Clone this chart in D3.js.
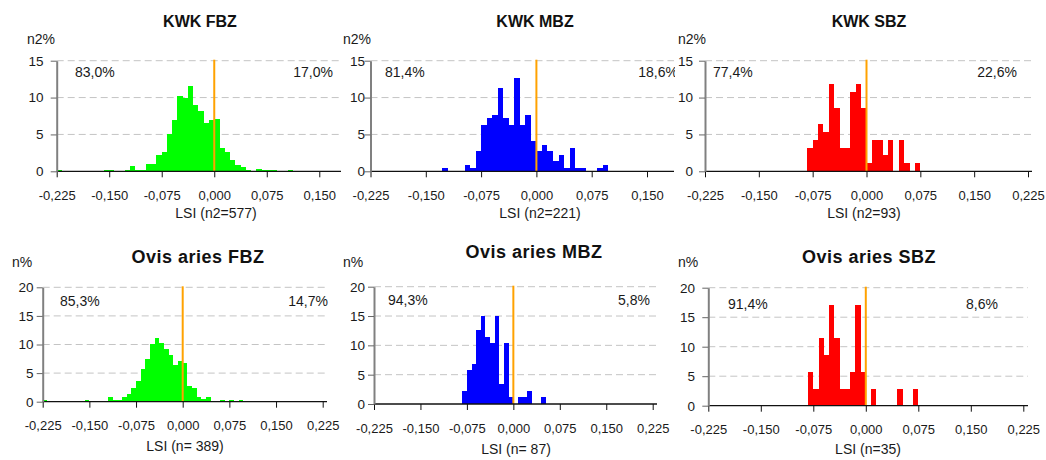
<!DOCTYPE html>
<html>
<head>
<meta charset="utf-8">
<script src="https://cdn.jsdelivr.net/npm/d3@7"></script>
<style>
  body { margin: 0; background: #fff; }
  svg { display: block; font-family: "Liberation Sans", Arial, sans-serif; }
</style>
</head>
<body>
<svg id="chart" width="1046" height="460"></svg>
<script>
// ---- Data: LSI histograms, bin width 0.0075, counts per bin ----
const binWidth = 0.0075;
const xTickValues = [-0.225, -0.15, -0.075, 0, 0.075, 0.15, 0.225];
const yTicksKwk = [0, 5, 10, 15];
const yTicksOvis = [0, 5, 10, 15, 20];
const thresholdLSI = 0;

// KWK FBZ (n2 = 577), bins starting at -0.225
const kwkFbzFirstBin = -0.225;
const kwkFbzCounts = [1, 0, 0, 0, 0, 0, 0, 0, 0, 1, 1, 0, 0, 1, 4, 1, 1, 6, 6, 13, 15, 29, 40, 59, 57, 67, 52, 47, 38, 40,
                      41, 18, 15, 9, 5, 3, 1, 0, 2, 1, 1, 1, 0, 0, 1];
// KWK MBZ (n2 = 221), bins starting at -0.1275
const kwkMbzFirstBin = -0.1275;
const kwkMbzCounts = [1, 0, 0, 0, 2, 1, 6, 14, 16, 17, 25, 16, 14, 28, 14, 17, 9,
                      6, 8, 6, 3, 5, 1, 7, 1, 1, 0, 0, 1, 2];
// KWK SBZ (n2 = 93), bins starting at -0.0825
const kwkSbzFirstBin = -0.0825;
const kwkSbzCounts = [3, 4, 6, 5, 11, 8, 3, 3, 10, 11, 8,
                      1, 4, 4, 2, 4, 0, 4, 1, 0, 1];
// Ovis aries FBZ (n = 389), bins starting at -0.225
const ovisFbzFirstBin = -0.225;
const ovisFbzCounts = [1, 0, 0, 0, 0, 0, 0, 0, 0, 1, 0, 0, 0, 0, 3, 1, 1, 3, 5, 9, 14, 22, 29, 39, 43, 40, 36, 32, 25, 28,
                       26, 11, 9, 3, 2, 3, 0, 0, 1, 0, 1, 0, 1];
// Ovis aries MBZ (n = 87), bins starting at -0.0825
const ovisMbzFirstBin = -0.0825;
const ovisMbzCounts = [2, 5, 6, 11, 13, 10, 9, 13, 3, 9, 1,
                       0, 1, 1, 2, 0, 0, 1];
// Ovis aries SBZ (n = 35), bins starting at -0.0825
const ovisSbzFirstBin = -0.0825;
const ovisSbzCounts = [2, 1, 4, 3, 6, 4, 1, 1, 2, 6, 2,
                       0, 1, 0, 0, 0, 0, 1, 0, 0, 1];

const sampleSizes = [577, 221, 93, 389, 87, 35];
const titles = ["KWK FBZ", "KWK MBZ", "KWK SBZ", "Ovis aries FBZ", "Ovis aries MBZ", "Ovis aries SBZ"];
const axisTitles = ["LSI (n2=577)", "LSI (n2=221)", "LSI (n2=93)", "LSI (n= 389)", "LSI (n= 87)", "LSI (n=35)"];
const leftShares = ["83,0%", "81,4%", "77,4%", "85,3%", "94,3%", "91,4%"];
const rightShares = ["17,0%", "18,6%", "22,6%", "14,7%", "5,8%", "8,6%"];
const yAxisLabels = ["n2%", "n2%", "n2%", "n%", "n%", "n%"];
const barColors = ["#00ff00", "#0000ff", "#ff0000", "#00ff00", "#0000ff", "#ff0000"];

// ---- Layout of the six small multiples ----
const layouts = [
  { xL: 56.7, xR: 371.8, yT: 60.7, yB: 171.3, axisEnd: 341, clip: [0, 341], yLabRight: 43.5,
    titleX: 200, titleY: 27, titleSize: 16, yLabX: 27, yLabY: 44, lPctX: 75, rPctX: 333, pctY: 77, tickY: 200, axTX: 216, axTY: 218 },
  { xL: 370.5, xR: 702.3, yT: 60.7, yB: 171.3, axisEnd: 674, clip: [341, 675], yLabRight: 365,
    titleX: 535, titleY: 27, titleSize: 16, yLabX: 343, yLabY: 44, lPctX: 385, rPctX: 678, pctY: 77, tickY: 200, axTX: 540, axTY: 218 },
  { xL: 705, xR: 1028, yT: 60.7, yB: 171.3, axisEnd: 1032, clip: null, yLabRight: 693,
    titleX: 869, titleY: 27, titleSize: 16, yLabX: 678, yLabY: 44, lPctX: 713, rPctX: 1017, pctY: 77, tickY: 200, axTX: 864, axTY: 218 },
  { xL: 42.7, xR: 322.7, yT: 287.3, yB: 401.7, axisEnd: 327, clip: null, yLabRight: 33.5,
    titleX: 198, titleY: 263, titleSize: 18, yLabX: 12, yLabY: 267, lPctX: 60, rPctX: 328, pctY: 306, tickY: 430, axTX: 185, axTY: 451 },
  { xL: 374, xR: 652.7, yT: 286.7, yB: 404, axisEnd: 657, clip: null, yLabRight: 365,
    titleX: 534, titleY: 258, titleSize: 18, yLabX: 343, yLabY: 267, lPctX: 388, rPctX: 650, pctY: 305, tickY: 433, axTX: 516, axTY: 454 },
  { xL: 708.3, xR: 1023.3, yT: 287.7, yB: 405.7, axisEnd: 1028, clip: null, yLabRight: 695,
    titleX: 869, titleY: 263, titleSize: 18, yLabX: 678, yLabY: 267, lPctX: 728, rPctX: 998, pctY: 309, tickY: 434, axTX: 868, axTY: 454 }
];

const firstBins = [kwkFbzFirstBin, kwkMbzFirstBin, kwkSbzFirstBin, ovisFbzFirstBin, ovisMbzFirstBin, ovisSbzFirstBin];
const countSets = [kwkFbzCounts, kwkMbzCounts, kwkSbzCounts, ovisFbzCounts, ovisMbzCounts, ovisSbzCounts];
const yTickSets = [yTicksKwk, yTicksKwk, yTicksKwk, yTicksOvis, yTicksOvis, yTicksOvis];

const commaLocale = d3.formatLocale({ decimal: ",", thousands: " ", grouping: [3], currency: ["", ""], minus: "-" });
const fmtLSI = commaLocale.format(".3f");

const svg = d3.select("#chart");
const defs = svg.append("defs");

layouts.forEach((L, p) => {
  const g = svg.append("g");
  if (L.clip) {
    defs.append("clipPath").attr("id", "clip" + p)
      .append("rect").attr("x", L.clip[0]).attr("y", 0).attr("width", L.clip[1] - L.clip[0]).attr("height", 460);
    g.attr("clip-path", `url(#clip${p})`);
  }

  const yTicks = yTickSets[p];
  const yMax = yTicks[yTicks.length - 1];
  const x = d3.scaleLinear().domain([-0.225, 0.225]).range([L.xL, L.xR]);
  const y = d3.scaleLinear().domain([0, yMax]).range([L.yB, L.yT]);

  // dashed gridlines
  g.append("g").selectAll("line")
    .data(yTicks.filter(t => t > 0))
    .join("line")
    .attr("x1", L.xL).attr("x2", L.axisEnd)
    .attr("y1", d => y(d)).attr("y2", d => y(d))
    .attr("stroke", "#c4c4c4").attr("stroke-width", 1).attr("stroke-dasharray", "7,4");

  // histogram bars (percentage of sample per bin)
  const n = sampleSizes[p];
  const bins = countSets[p].map((c, i) => ({ x0: firstBins[p] + i * binWidth, pct: c / n * 100 }))
    .filter(b => b.pct > 0);
  g.append("g").selectAll("rect")
    .data(bins)
    .join("rect")
    .attr("x", d => x(d.x0))
    .attr("width", d => x(d.x0 + binWidth) - x(d.x0))
    .attr("y", d => y(d.pct))
    .attr("height", d => y(0) - y(d.pct))
    .attr("fill", barColors[p])
    .attr("shape-rendering", "crispEdges");

  // threshold line at LSI = 0
  g.append("line")
    .attr("x1", x(thresholdLSI)).attr("x2", x(thresholdLSI))
    .attr("y1", y(yMax) - 1).attr("y2", y(0))
    .attr("stroke", "#ffa200").attr("stroke-width", 2);

  // x axis (only the ticks that fall inside the drawn axis)
  g.append("line")
    .attr("x1", L.xL).attr("x2", L.axisEnd).attr("y1", L.yB).attr("y2", L.yB)
    .attr("stroke", "#111").attr("stroke-width", 1.3);
  const visibleTicks = xTickValues.filter(t => x(t) <= L.axisEnd + 1);
  const xAxis = d3.axisBottom(x).tickValues(visibleTicks).tickFormat(fmtLSI)
    .tickSize(6).tickSizeOuter(0).tickPadding(L.tickY - L.yB - 6 - 0.71 * 13);
  const gx = g.append("g").attr("transform", `translate(0,${L.yB})`).call(xAxis);
  gx.select(".domain").remove();
  gx.selectAll(".tick line").attr("stroke", "#111");
  gx.selectAll("text").attr("font-size", 13).attr("fill", "#1a1a1a").attr("font-family", "Liberation Sans, Arial, sans-serif");

  // y axis
  const yAxis = d3.axisLeft(y).tickValues(yTicks).tickFormat(d3.format("d"))
    .tickSize(6).tickSizeOuter(0).tickPadding(L.xL - L.yLabRight - 6);
  const gy = g.append("g").attr("transform", `translate(${L.xL},0)`).call(yAxis);
  gy.select(".domain").attr("stroke", "#808080").attr("stroke-width", 2);
  gy.selectAll(".tick line").attr("stroke", "#666");
  gy.selectAll("text").attr("font-size", 13.5).attr("fill", "#1a1a1a").attr("font-family", "Liberation Sans, Arial, sans-serif");

  // texts
  g.append("text").attr("x", L.titleX).attr("y", L.titleY).attr("text-anchor", "middle")
    .attr("font-weight", "bold").attr("font-size", L.titleSize)
    .attr("letter-spacing", L.titleSize > 16 ? 0.5 : 0).attr("fill", "#111").text(titles[p]);
  g.append("text").attr("x", L.yLabX).attr("y", L.yLabY).attr("font-size", 14).attr("fill", "#1a1a1a").text(yAxisLabels[p]);
  g.append("text").attr("x", L.lPctX).attr("y", L.pctY).attr("font-size", 14).attr("fill", "#1a1a1a").text(leftShares[p]);
  g.append("text").attr("x", L.rPctX).attr("y", L.pctY).attr("text-anchor", "end").attr("font-size", 14).attr("fill", "#1a1a1a").text(rightShares[p]);
  g.append("text").attr("x", L.axTX).attr("y", L.axTY).attr("text-anchor", "middle").attr("font-size", 14).attr("fill", "#1a1a1a").text(axisTitles[p]);
});
</script>
</body>
</html>
